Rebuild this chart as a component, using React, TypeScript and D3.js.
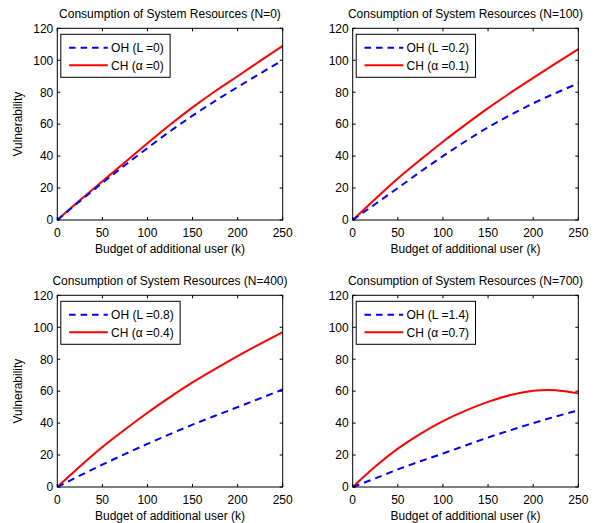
import React from "react";
import * as d3 from "d3";

const budget = [0, 25, 50, 75, 100, 125, 150, 175, 200, 225, 250];

const ohN0 = [0, 11.8, 23.2, 34.3, 45, 55.5, 65.3, 74.5, 83.2, 91.7, 100];
const chN0 = [0, 12.3, 24.2, 36.1, 48, 59.6, 70.5, 80.6, 90, 99.6, 109];
const ohN100 = [0, 10, 20, 30.2, 40, 49.3, 58, 65.8, 73, 79.5, 85.5];
const chN100 = [0, 13.2, 26, 37.7, 49, 59.7, 70, 79.7, 89, 98.1, 107];
const ohN400 = [0, 7.1, 14, 20.6, 27, 33.1, 39, 44.6, 50, 55.5, 61];
const chN400 = [0, 12.8, 25, 36, 46.5, 56.3, 65.5, 73.9, 82, 89.6, 97];
const ohN700 = [0, 5.4, 11, 16.1, 21, 26, 31, 35.6, 40, 44.1, 48];
const chN700 = [0, 12.8, 24, 33.3, 41.2, 47.8, 53.3, 57.6, 60.2, 60.6, 58.6];

const titles = [
  "Consumption of System Resources (N=0)",
  "Consumption of System Resources (N=100)",
  "Consumption of System Resources (N=400)",
  "Consumption of System Resources (N=700)",
];
const ohLabels = ["OH (L =0)", "OH (L =0.2)", "OH (L =0.8)", "OH (L =1.4)"];
const chLabels = ["CH (\u03b1 =0)", "CH (\u03b1 =0.1)", "CH (\u03b1 =0.4)", "CH (\u03b1 =0.7)"];
const xTicks = [0, 50, 100, 150, 200, 250];
const yTicks = [0, 20, 40, 60, 80, 100, 120];
const xLabel = "Budget of additional user (k)";
const yLabel = "Vulnerability";

const ohSeries = [ohN0, ohN100, ohN400, ohN700];
const chSeries = [chN0, chN100, chN400, chN700];

const FONT = "Liberation Sans, Arial, Helvetica, sans-serif";
const FS = 12;

function measure(text: string): number {
  if (typeof document === "undefined") return text.length * 6;
  const c = document.createElement("canvas");
  const ctx = c.getContext("2d");
  if (!ctx) return text.length * 6;
  ctx.font = `${FS}px ${FONT}`;
  return ctx.measureText(text).width;
}

const panels = [
  { left: 57.3, top: 28.3, width: 225.4, height: 191.7, yLab: true },
  { left: 352.7, top: 28.3, width: 225.6, height: 191.7, yLab: false },
  { left: 57.3, top: 295.3, width: 225.4, height: 191.7, yLab: true },
  { left: 352.7, top: 295.3, width: 225.6, height: 191.7, yLab: false },
];

function Panel({ idx }: { idx: number }) {
  const p = panels[idx];
  const x = d3.scaleLinear().domain([0, 250]).range([p.left, p.left + p.width]);
  const y = d3.scaleLinear().domain([0, 120]).range([p.top + p.height, p.top]);
  const line = d3
    .line<number>()
    .x((_, i) => x(budget[i]))
    .y((d) => y(d))
    .curve(d3.curveNatural);
  const oh = ohSeries[idx];
  const ch = chSeries[idx];
  const tl = 3;
  const bottom = p.top + p.height;
  const right = p.left + p.width;
  const lgLeft = p.left + 3.5;
  const lgTop = p.top + 6;
  const textW = Math.max(measure(ohLabels[idx]), measure(chLabels[idx]));
  const lgW = 111 - 60.7 + textW + 6;
  const lgH = 43;
  return (
    <g>
      <rect x={p.left} y={p.top} width={p.width} height={p.height} fill="#fff" />
      <path d={line(ch) || ""} fill="none" stroke="#ff0000" strokeWidth={2} />
      <path d={line(oh) || ""} fill="none" stroke="#0000ff" strokeWidth={2} strokeDasharray="7,5" />
      {xTicks.map((t) => (
        <g key={"x" + t}>
          <line x1={x(t)} x2={x(t)} y1={bottom} y2={bottom - tl} stroke="#000" strokeWidth={1} />
          <line x1={x(t)} x2={x(t)} y1={p.top} y2={p.top + tl} stroke="#000" strokeWidth={1} />
          <text x={x(t)} y={bottom + 16.5} textAnchor="middle" fontSize={FS} fontFamily={FONT}>
            {t}
          </text>
        </g>
      ))}
      {yTicks.map((t) => (
        <g key={"y" + t}>
          <line x1={p.left} x2={p.left + tl} y1={y(t)} y2={y(t)} stroke="#000" strokeWidth={1} />
          <line x1={right} x2={right - tl} y1={y(t)} y2={y(t)} stroke="#000" strokeWidth={1} />
          <text x={p.left - 4} y={y(t) + 4.3} textAnchor="end" fontSize={FS} fontFamily={FONT}>
            {t}
          </text>
        </g>
      ))}
      <rect x={p.left} y={p.top} width={p.width} height={p.height} fill="none" stroke="#000" strokeWidth={1} />
      <text x={p.left + p.width / 2} y={p.top - 10} textAnchor="middle" fontSize={FS} fontFamily={FONT}>
        {titles[idx]}
      </text>
      <text x={p.left + p.width / 2} y={bottom + 32.5} textAnchor="middle" fontSize={FS} fontFamily={FONT}>
        {xLabel}
      </text>
      {p.yLab && (
        <text
          transform={`translate(${22},${p.top + p.height / 2}) rotate(-90)`}
          textAnchor="middle"
          fontSize={FS}
          fontFamily={FONT}
        >
          {yLabel}
        </text>
      )}
      <rect x={lgLeft} y={lgTop} width={lgW} height={lgH} fill="#fff" stroke="#000" strokeWidth={1} />
      <line x1={lgLeft + 8.3} x2={lgLeft + 47} y1={lgTop + 13.5} y2={lgTop + 13.5} stroke="#0000ff" strokeWidth={2} strokeDasharray="6.5,5" />
      <line x1={lgLeft + 8.3} x2={lgLeft + 47} y1={lgTop + 31} y2={lgTop + 31} stroke="#ff0000" strokeWidth={2} />
      <text x={lgLeft + 50.3} y={lgTop + 13.5 + 4.3} fontSize={FS} fontFamily={FONT}>
        {ohLabels[idx]}
      </text>
      <text x={lgLeft + 50.3} y={lgTop + 31 + 4.3} fontSize={FS} fontFamily={FONT}>
        {chLabels[idx]}
      </text>
    </g>
  );
}

export default function App() {
  return (
    <svg
      width={605}
      height={523}
      style={{ position: "absolute", left: 0, top: 0, background: "#fff" }}
    >
      <rect x={0} y={0} width={605} height={523} fill="#fff" />
      {[0, 1, 2, 3].map((i) => (
        <Panel key={i} idx={i} />
      ))}
    </svg>
  );
}
